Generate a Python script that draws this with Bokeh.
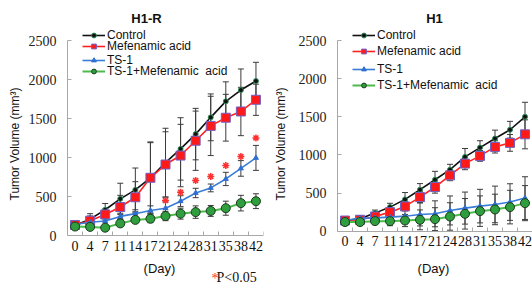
from bokeh.plotting import figure
from bokeh.layouts import row
from bokeh.models import (ColumnDataSource, Whisker, TeeHead, FixedTicker, Legend,
                          LegendItem, Label, Range1d, LinearAxis)
from bokeh.embed import file_html
from bokeh.resources import INLINE

days = ["0", "4", "7", "11", "14", "17", "21", "24", "28", "31", "35", "38", "42"]
series_names = ["Control", "Mefenamic acid", "TS-1", "TS-1+Mefenamic  acid"]
y_ticks = [0, 500, 1000, 1500, 2000, 2500]

# H1-R
h1r_control = [130, 210, 330, 470, 585, 740, 935, 1110, 1300, 1515, 1720, 1865, 1980]
h1r_control_sd = [20, 70, 80, 200, 280, 460, 440, 400, 330, 300, 250, 270, 240]
h1r_mef = [135, 190, 270, 365, 490, 740, 910, 1025, 1215, 1405, 1510, 1590, 1740]
h1r_mef_sd = [20, 60, 70, 150, 200, 450, 420, 400, 380, 380, 300, 310, 200]
h1r_ts1 = [140, 170, 185, 245, 280, 320, 350, 440, 545, 610, 725, 860, 995]
h1r_ts1_sd = [15, 30, 40, 40, 50, 60, 80, 70, 60, 50, 85, 100, 160]
h1r_combo = [115, 110, 100, 155, 200, 215, 250, 280, 300, 315, 350, 415, 440]
h1r_combo_sd = [15, 20, 30, 40, 40, 50, 60, 70, 80, 70, 90, 100, 95]
h1r_sig_days = ["21", "24", "28", "31", "35", "38", "42"]
h1r_sig = [448, 555, 705, 756, 897, 1012, 1251]

# H1
h1_control = [140, 162, 237, 316, 417, 544, 675, 807, 974, 1096, 1215, 1330, 1500]
h1_control_sd = [20, 30, 40, 50, 90, 80, 110, 70, 110, 90, 110, 110, 190]
h1_mef = [140, 150, 193, 250, 325, 447, 579, 732, 886, 987, 1105, 1158, 1270]
h1_mef_sd = [20, 20, 30, 40, 60, 70, 80, 70, 80, 70, 80, 110, 190]
h1_ts1 = [140, 171, 175, 184, 197, 219, 228, 272, 303, 329, 351, 382, 434]
h1_ts1_sd = [20, 30, 50, 60, 90, 150, 170, 190, 210, 220, 240, 240, 280]
h1_combo = [120, 120, 132, 132, 140, 149, 158, 193, 228, 263, 285, 316, 368]
h1_combo_sd = [20, 30, 40, 60, 80, 130, 150, 180, 200, 200, 200, 220, 230]

SERIF = "Liberation Serif"
SANS = "Liberation Sans"
ERR = "#3c3c3c"
AX = "#a8a8a8"
FIG_H = 287
LEG_ROW_H = 14

styles = [
    dict(line="#111111", marker="circle", size=5, fill="#111111", edge="#2e8b57", lw=1.6),
    dict(line="#ff2020", marker="square", size=9, fill="#ff1a1a", edge="#7060c8", lw=1.6),
    dict(line="#3a7dd6", marker="triangle", size=5, fill="#2f6fd0", edge="#2f6fd0", lw=1.6),
    dict(line="#4cbb4c", marker="circle", size=9, fill="#2e9e3e", edge="#1d3b1d", lw=2.0),
]


def make_panel(title, fig_x, title_px, day_px, data, width, frame_left, frame_right,
               zero_px, top_px, legend_rows, ylabel_standoff, sig=None, note=False):
    ppu = (zero_px - top_px) / 2500.0          # pixels per unit
    ymax = 2500 + top_px / ppu
    ymin = -(FIG_H - zero_px) / ppu
    n = len(days)
    xs = list(range(n))
    frame_w = width - frame_left - frame_right
    ppx = frame_w / n

    def px_to_x(px):
        return (px - (fig_x + frame_left)) / ppx - 0.5

    def py_to_y(py):
        return (zero_px - py) / ppu

    p = figure(width=width, height=FIG_H, output_backend="svg", toolbar_location=None,
               x_range=Range1d(-0.5, n - 0.5), y_range=Range1d(ymin, ymax),
               x_axis_location=None,
               min_border_left=frame_left, min_border_right=frame_right,
               min_border_top=0, min_border_bottom=0)
    p.outline_line_color = None
    p.grid.visible = False
    p.background_fill_color = "white"

    items = []
    for name, (vals, sd), st in zip(series_names, data, styles):
        src = ColumnDataSource(dict(x=xs, y=vals,
                                    lo=[v - s for v, s in zip(vals, sd)],
                                    hi=[v + s for v, s in zip(vals, sd)]))
        w = Whisker(source=src, base="x", upper="hi", lower="lo", dimension="height",
                    line_color=ERR, line_width=1,
                    upper_head=TeeHead(size=6, line_color=ERR, line_width=1),
                    lower_head=TeeHead(size=6, line_color=ERR, line_width=1))
        p.add_layout(w)
        r1 = p.line("x", "y", source=src, line_color=st["line"], line_width=st["lw"])
        r2 = p.scatter("x", "y", source=src, marker=st["marker"], size=st["size"],
                       fill_color=st["fill"], line_color=st["edge"], line_width=1)
        items.append(LegendItem(label=name, renderers=[r1, r2]))

    if sig is not None:
        sdays, svals = sig
        p.scatter([days.index(d) for d in sdays], svals, marker="asterisk", size=7,
                  line_color="#ff3030", line_width=1.5)

    # one legend per row so each row sits where the reference puts it
    for item, row_c in zip(items, legend_rows):
        leg = Legend(items=[item], location=(15, FIG_H - row_c - LEG_ROW_H / 2),
                     padding=0, margin=0, spacing=0, label_height=12, glyph_height=12,
                     glyph_width=23, label_standoff=2, border_line_color=None,
                     background_fill_alpha=0, label_text_font=SANS,
                     label_text_font_size="12px", label_text_color="#111111")
        p.add_layout(leg)

    # x axis drawn at y = 0 inside the frame
    xa = LinearAxis(fixed_location=0)
    p.add_layout(xa, "below")
    xa.ticker = FixedTicker(ticks=xs, minor_ticks=[i - 0.5 for i in range(n + 1)])
    xa.major_label_overrides = {i: d for i, d in enumerate(days)}
    xa.major_tick_in = 0
    xa.major_tick_out = 0
    xa.minor_tick_in = 4
    xa.minor_tick_out = 0
    xa.minor_tick_line_color = AX
    xa.axis_line_color = AX
    xa.major_label_text_font = SERIF
    xa.major_label_text_font_size = "14px"
    xa.major_label_text_color = "#111111"
    xa.major_label_standoff = 5

    p.add_layout(Label(x=px_to_x(day_px), y=py_to_y(268), text="(Day)", text_font=SANS,
                       text_font_size="13px", text_align="center",
                       text_baseline="middle", text_color="#111111"))

    ya = p.yaxis[0]
    ya.bounds = (0, 2500)
    ya.ticker = FixedTicker(ticks=y_ticks)
    ya.major_tick_in = 4
    ya.major_tick_out = 0
    ya.minor_tick_line_color = None
    ya.major_tick_line_color = AX
    ya.axis_line_color = AX
    ya.major_label_text_font = SERIF
    ya.major_label_text_font_size = "14px"
    ya.major_label_text_color = "#222222"
    ya.major_label_standoff = 11
    ya.axis_label = "Tumor Volume (mm³)"
    ya.axis_label_text_font = SANS
    ya.axis_label_text_font_size = "12px"
    ya.axis_label_text_font_style = "normal"
    ya.axis_label_text_color = "#111111"
    ya.axis_label_standoff = ylabel_standoff

    p.add_layout(Label(x=px_to_x(title_px[0]), y=py_to_y(title_px[1]), text=title,
                       text_font=SANS, text_font_style="bold",
                       text_font_size="13px", text_align="center",
                       text_baseline="middle", text_color="#111111"))
    if note:
        p.add_layout(Label(x=px_to_x(211), y=py_to_y(278), text="*",
                           text_font=SERIF, text_font_size="14px", text_color="#ff3030",
                           text_align="left", text_baseline="middle"))
        p.add_layout(Label(x=px_to_x(216), y=py_to_y(277), text="P<0.05",
                           text_font=SERIF, text_font_size="14px",
                           text_color="#111111", text_align="left",
                           text_baseline="middle"))
    return p


left = make_panel("H1-R", 0, (146, 18), 159,
                  [(h1r_control, h1r_control_sd), (h1r_mef, h1r_mef_sd),
                   (h1r_ts1, h1r_ts1_sd), (h1r_combo, h1r_combo_sd)],
                  width=270, frame_left=67, frame_right=7, zero_px=235, top_px=40,
                  legend_rows=[34.5, 46, 59.5, 71], ylabel_standoff=4,
                  sig=(h1r_sig_days, h1r_sig), note=True)
right = make_panel("H1", 270, (434, 18), 433,
                   [(h1_control, h1_control_sd), (h1_mef, h1_mef_sd),
                    (h1_ts1, h1_ts1_sd), (h1_combo, h1_combo_sd)],
                   width=262, frame_left=67, frame_right=0, zero_px=230.7, top_px=40,
                   legend_rows=[34.5, 51, 69, 84.5], ylabel_standoff=8)

layout = row(left, right)
open("out.html", "w").write(file_html(layout, INLINE))
